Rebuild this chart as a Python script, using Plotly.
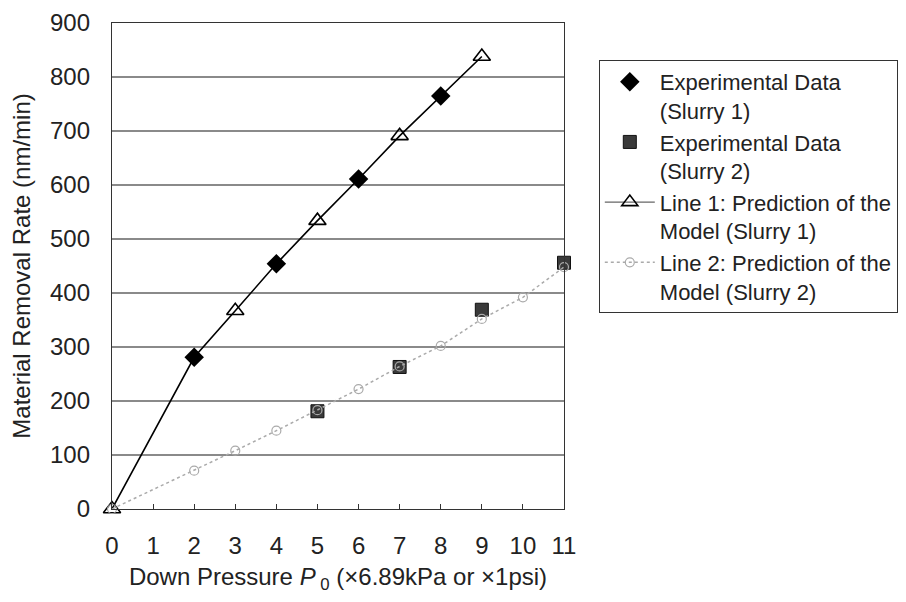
import plotly.graph_objects as go

# Data
exp1_x = [2, 4, 6, 8]
exp1_y = [281, 454, 611, 765]

exp2_x = [5, 7, 9, 11]
exp2_y = [181, 263, 369, 456]

line1_x = [0, 2, 3, 4, 5, 6, 7, 8, 9]
line1_y = [0, 281, 367, 454, 534, 611, 691, 765, 838]
line1_mx = [0, 3, 5, 7, 9]
line1_my = [0, 367, 534, 691, 838]

line2_x = [0, 2, 3, 4, 5, 6, 7, 8, 9, 10, 11]
line2_y = [0, 71, 108, 145, 183, 222, 264, 302, 352, 392, 448]

x_ticks = list(range(0, 12))
y_ticks = list(range(0, 1000, 100))

FONT = "Liberation Sans, Arial, Helvetica, sans-serif"

fig = go.Figure()

# Legend order: Exp 1, Exp 2, Line 1, Line 2
fig.add_trace(go.Scatter(
    x=exp1_x, y=exp1_y, mode="markers",
    name="Experimental Data<br>(Slurry 1)",
    marker=dict(symbol="diamond", size=15, color="black"),
    cliponaxis=False,
))
fig.add_trace(go.Scatter(
    x=exp2_x, y=exp2_y, mode="markers",
    name="Experimental Data<br>(Slurry 2)",
    marker=dict(symbol="square", size=13, color="#3a3a3a",
                line=dict(color="#111", width=1)),
    cliponaxis=False,
))
# Line 1: solid curve through all points, triangles at prediction points
fig.add_trace(go.Scatter(
    x=line1_x, y=line1_y, mode="lines",
    line=dict(color="black", width=1.6),
    showlegend=False, cliponaxis=False,
))
fig.add_trace(go.Scatter(
    x=line1_mx, y=line1_my, mode="markers",
    marker=dict(symbol="triangle-up-open", size=15, color="black",
                line=dict(width=1.6, color="black")),
    showlegend=False, cliponaxis=False,
))
# legend-only entry for Line 1 (no data points)
fig.add_trace(go.Scatter(
    x=[None], y=[None], mode="lines+markers",
    name="Line 1: Prediction of the<br>Model (Slurry 1)",
    line=dict(color="#666", width=1.4),
    marker=dict(symbol="triangle-up-open", size=14, color="black",
                line=dict(width=1.6, color="black")),
))
fig.add_trace(go.Scatter(
    x=line2_x, y=line2_y, mode="lines+markers",
    name="Line 2: Prediction of the<br>Model (Slurry 2)",
    line=dict(color="#aaaaaa", width=1.5, dash="dot"),
    marker=dict(symbol="circle-open", size=9, color="#aaaaaa",
                line=dict(width=1.2, color="#aaaaaa")),
    cliponaxis=False,
))

fig.update_layout(
    width=906, height=602,
    margin=dict(l=112, r=342, t=23, b=93, autoexpand=False),
    paper_bgcolor="white", plot_bgcolor="white",
    font=dict(family=FONT, size=22, color="#222"),
    legend=dict(
        x=1.077, y=0.924, xanchor="left", yanchor="top",
        bordercolor="#333", borderwidth=1,
        font=dict(family=FONT, size=22, color="#222"),
        tracegroupgap=0, itemwidth=50, valign="top",
    ),
)

fig.update_xaxes(
    range=[0, 11], tickvals=x_ticks, ticktext=[str(v) for v in x_ticks],
    showgrid=False, zeroline=False,
    showline=True, linecolor="#333", linewidth=1.3, mirror=True,
    ticks="inside", ticklen=5, tickcolor="#333",
    tickfont=dict(size=24),
    ticklabelstandoff=15,
    title=dict(text="Down Pressure <i>P</i><sub> 0</sub> (×6.89kPa or ×1psi)",
               font=dict(size=24), standoff=10),
)
fig.update_yaxes(
    range=[0, 900], tickvals=y_ticks, ticktext=[str(v) for v in y_ticks],
    showgrid=True, gridcolor="#8a8a8a", gridwidth=1.6,
    zeroline=False,
    showline=True, linecolor="#333", linewidth=1.3, mirror=True,
    ticks="", tickfont=dict(size=24),
    ticklabelstandoff=16,
    title=dict(text="Material Removal Rate (nm/min)", font=dict(size=24), standoff=12),
)

fig.write_html("out.html")
